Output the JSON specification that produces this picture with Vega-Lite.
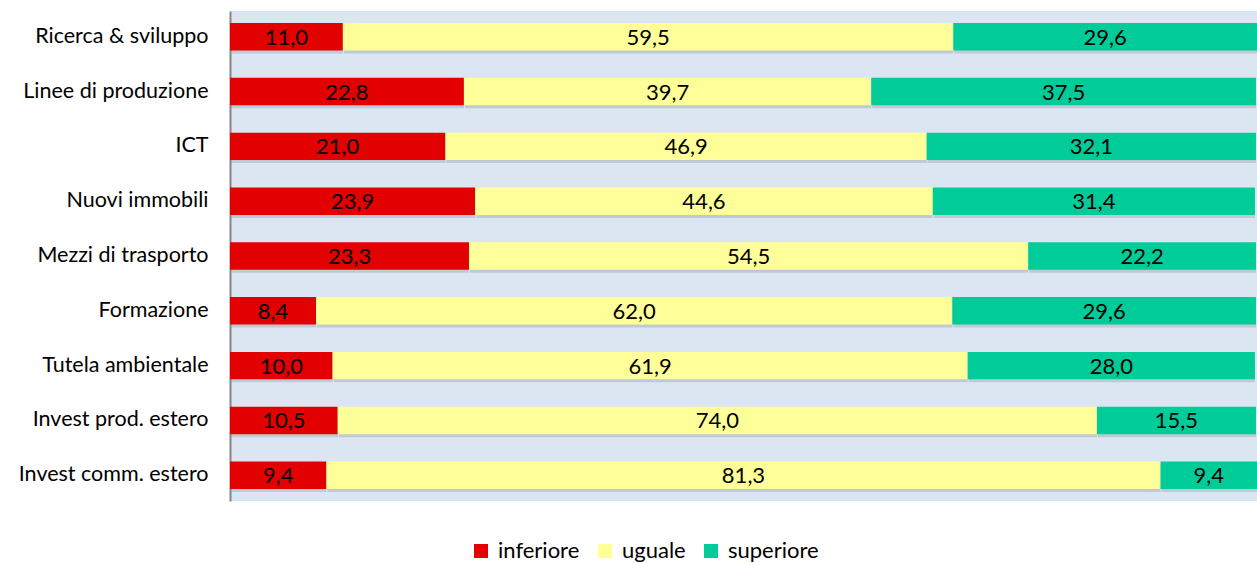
{
  "$schema": "https://vega.github.io/schema/vega-lite/v6.json",
  "width": 1027,
  "height": 490,
  "autosize": "none",
  "padding": {"left": 230, "top": 11, "right": 0, "bottom": 62},
  "config": {
    "locale": {"number": {"decimal": ",", "thousands": ".", "grouping": [3], "currency": ["", " €"]}},
    "view": {"fill": "#dce6f2", "stroke": null},
    "font": "Lato"
  },
  "data": {"values": [
    {"cat": "Ricerca & sviluppo", "group": "inferiore", "k": 1, "v": 11.0},
    {"cat": "Ricerca & sviluppo", "group": "uguale", "k": 2, "v": 59.5},
    {"cat": "Ricerca & sviluppo", "group": "superiore", "k": 3, "v": 29.6},
    {"cat": "Linee di produzione", "group": "inferiore", "k": 1, "v": 22.8},
    {"cat": "Linee di produzione", "group": "uguale", "k": 2, "v": 39.7},
    {"cat": "Linee di produzione", "group": "superiore", "k": 3, "v": 37.5},
    {"cat": "ICT", "group": "inferiore", "k": 1, "v": 21.0},
    {"cat": "ICT", "group": "uguale", "k": 2, "v": 46.9},
    {"cat": "ICT", "group": "superiore", "k": 3, "v": 32.1},
    {"cat": "Nuovi immobili ", "group": "inferiore", "k": 1, "v": 23.9},
    {"cat": "Nuovi immobili ", "group": "uguale", "k": 2, "v": 44.6},
    {"cat": "Nuovi immobili ", "group": "superiore", "k": 3, "v": 31.4},
    {"cat": "Mezzi di trasporto", "group": "inferiore", "k": 1, "v": 23.3},
    {"cat": "Mezzi di trasporto", "group": "uguale", "k": 2, "v": 54.5},
    {"cat": "Mezzi di trasporto", "group": "superiore", "k": 3, "v": 22.2},
    {"cat": "Formazione", "group": "inferiore", "k": 1, "v": 8.4},
    {"cat": "Formazione", "group": "uguale", "k": 2, "v": 62.0},
    {"cat": "Formazione", "group": "superiore", "k": 3, "v": 29.6},
    {"cat": "Tutela ambientale", "group": "inferiore", "k": 1, "v": 10.0},
    {"cat": "Tutela ambientale", "group": "uguale", "k": 2, "v": 61.9},
    {"cat": "Tutela ambientale", "group": "superiore", "k": 3, "v": 28.0},
    {"cat": "Invest prod. estero", "group": "inferiore", "k": 1, "v": 10.5},
    {"cat": "Invest prod. estero", "group": "uguale", "k": 2, "v": 74.0},
    {"cat": "Invest prod. estero", "group": "superiore", "k": 3, "v": 15.5},
    {"cat": "Invest comm. estero", "group": "inferiore", "k": 1, "v": 9.4},
    {"cat": "Invest comm. estero", "group": "uguale", "k": 2, "v": 81.3},
    {"cat": "Invest comm. estero", "group": "superiore", "k": 3, "v": 9.4}
  ]},
  "transform": [
    {"stack": "v", "groupby": ["cat"], "sort": [{"field": "k", "order": "ascending"}], "as": ["v0", "v1"]},
    {"calculate": "(datum.v0 + datum.v1) / 2", "as": "mid"}
  ],
  "encoding": {
    "y": {
      "field": "cat", "type": "nominal",
      "sort": ["Ricerca & sviluppo", "Linee di produzione", "ICT", "Nuovi immobili ", "Mezzi di trasporto", "Formazione", "Tutela ambientale", "Invest prod. estero", "Invest comm. estero"],
      "scale": {"paddingInner": 0.5, "paddingOuter": 0.22},
      "axis": {"title": null, "ticks": false, "labelFontSize": 21.5, "labelLimit": 400, "labelColor": "#000000", "labelPadding": 22, "domainColor": "#868686", "domainWidth": 2, "labelFont": "Lato"}
    },
    "x": {"field": "v0", "type": "quantitative", "scale": {"domain": [0, 100.1], "nice": false, "zero": true}, "axis": null},
    "x2": {"field": "v1"}
  },
  "layer": [
    {
      "mark": {"type": "bar", "color": "#8a94a0", "opacity": 0.35, "yOffset": 3, "xOffset": 1},
      "encoding": {}
    },
    {
      "mark": {"type": "bar"},
      "encoding": {
        "color": {
          "field": "group", "type": "nominal",
          "scale": {"domain": ["inferiore", "uguale", "superiore"], "range": ["#e30000", "#ffff99", "#00cc99"]},
          "legend": {"title": null, "orient": "none", "direction": "horizontal", "legendX": 240, "legendY": 529, "symbolType": "square", "symbolSize": 196, "symbolOpacity": 1, "symbolStrokeWidth": 0, "labelFontSize": 22, "labelColor": "#000000", "columnPadding": 14, "labelOffset": 6, "padding": 0, "offset": 0}
        }
      }
    },
    {
      "mark": {"type": "text", "fontSize": 22, "color": "#000000", "align": "center", "baseline": "middle", "dy": 1},
      "encoding": {
        "x": {"field": "mid", "type": "quantitative"},
        "x2": null,
        "text": {"field": "v", "type": "quantitative", "format": ".1f"}
      }
    }
  ]
}
